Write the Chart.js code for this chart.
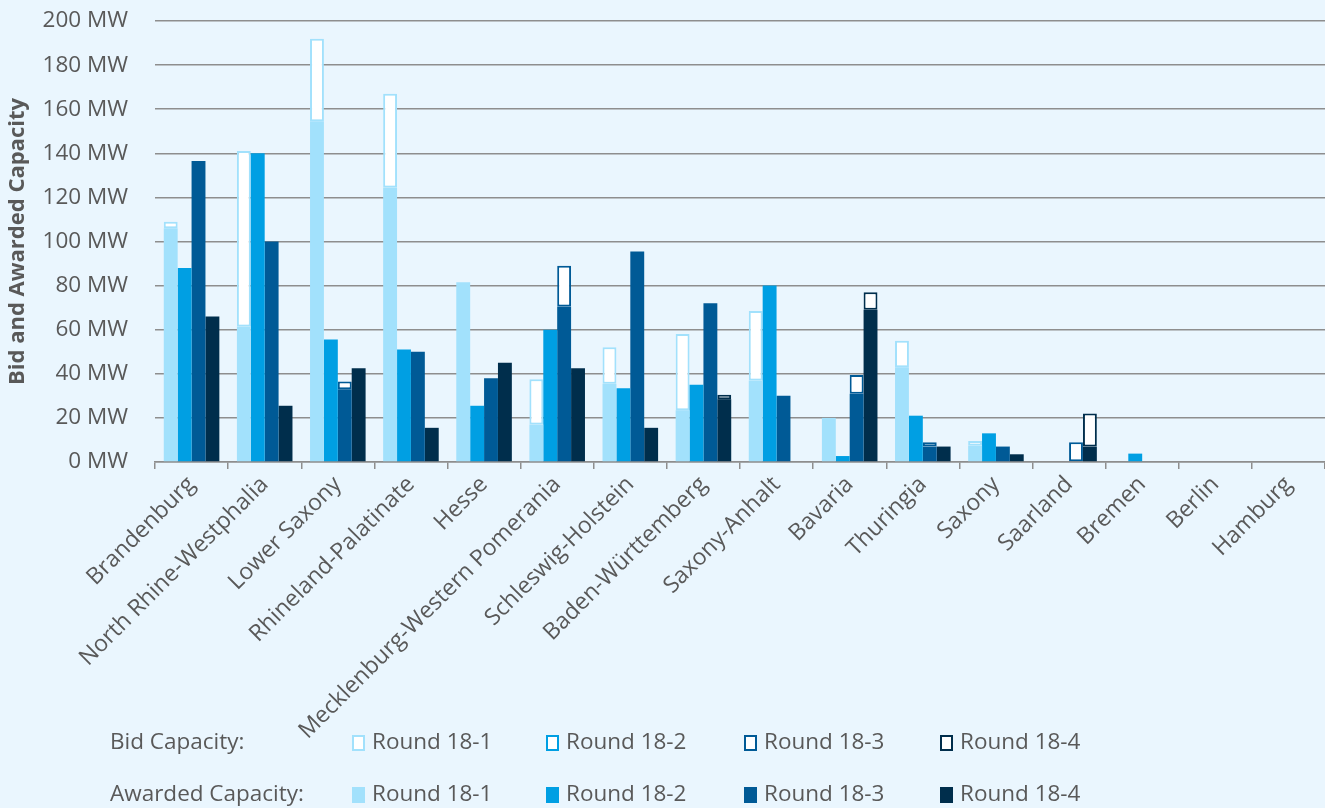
<!DOCTYPE html>
<html>
<head>
<meta charset="utf-8">
<script src="https://cdn.jsdelivr.net/npm/chart.js@4"></script>
<style>
    html, body { margin: 0; padding: 0; background: #EAF6FE; }
    #wrap { width: 1325px; height: 808px; position: relative; }
</style>
</head>
<body>
<div id="wrap"><canvas id="chart" width="1325" height="808"></canvas></div>
<script>
// ---------- Data ----------
const states = [
    "Brandenburg", "North Rhine-Westphalia", "Lower Saxony", "Rhineland-Palatinate",
    "Hesse", "Mecklenburg-Western Pomerania", "Schleswig-Holstein", "Baden-Württemberg",
    "Saxony-Anhalt", "Bavaria", "Thuringia", "Saxony", "Saarland", "Bremen", "Berlin", "Hamburg"
];
const roundNames = ["Round 18-1", "Round 18-2", "Round 18-3", "Round 18-4"];

const bid1     = [109, 141, 192, 167, 81.5, 37.5, 52, 58, 68.5, 20, 55, 9.5, 0, 0, 0, 0];
const awarded1 = [106, 61.5, 154.5, 124.5, 81.5, 17, 35.5, 23.5, 37, 20, 43, 7.5, 0, 0, 0, 0];
const bid2     = [88, 140, 55.5, 51, 25.5, 60, 33.5, 35, 80, 2.7, 21, 13, 0, 3.8, 0, 0];
const awarded2 = [88, 140, 55.5, 51, 25.5, 60, 33.5, 35, 80, 2.7, 21, 13, 0, 3.8, 0, 0];
const bid3     = [136.5, 100, 36.5, 50, 38, 89, 95.5, 72, 30, 39.5, 9, 7, 9, 0, 0, 0];
const awarded3 = [136.5, 100, 33, 50, 38, 70.5, 95.5, 72, 30, 31, 7, 7, 0, 0, 0, 0];
const bid4     = [66, 25.5, 42.5, 15.5, 45, 42.5, 15.5, 30.5, 0, 77, 7, 3.5, 22, 0, 0, 0];
const awarded4 = [66, 25.5, 42.5, 15.5, 45, 42.5, 15.5, 28.5, 0, 69, 7, 3.5, 7, 0, 0, 0];

const yTicks = [0, 20, 40, 60, 80, 100, 120, 140, 160, 180, 200];

const colors  = ["#A2E1FC", "#009FE3", "#005A96", "#002E4C"];
const textCol = "#595959";
const gridCol = "#8E8E8E";
const font    = "Open Sans";

const bids    = [bid1, bid2, bid3, bid4];
const awards  = [awarded1, awarded2, awarded3, awarded4];

// ---------- Datasets: awarded part + unawarded rest of the bid, stacked per round ----------
const datasets = [];
awards.forEach((a, i) => {
    datasets.push({
        label: "Awarded " + roundNames[i],
        data: a.map(v => v || null),
        backgroundColor: colors[i],
        borderWidth: 0,
        stack: "r" + i
    });
});
bids.forEach((b, i) => {
    datasets.push({
        label: "Bid " + roundNames[i],
        data: b.map((v, k) => (v - awards[i][k] > 0 ? v - awards[i][k] : null)),
        backgroundColor: "#FFFFFF",
        borderColor: colors[i],
        borderWidth: 2,
        borderSkipped: false,
        stack: "r" + i
    });
});

// ---------- Legend with row captions ----------
const rowLegend = {
    id: "rowLegend",
    afterDraw(chart) {
        const ctx = chart.ctx;
        const cols = [352, 546, 744, 940];
        const rows = [
            { caption: "Bid Capacity:", y: 743, filled: false },
            { caption: "Awarded Capacity:", y: 795, filled: true }
        ];
        ctx.save();
        ctx.font = `22.5px "${font}"`;
        ctx.textBaseline = "middle";
        rows.forEach(r => {
            ctx.fillStyle = textCol;
            ctx.fillText(r.caption, 110, r.y);
            cols.forEach((x, i) => {
                if (r.filled) {
                    ctx.fillStyle = colors[i];
                    ctx.fillRect(x, r.y - 8, 13, 16);
                } else {
                    ctx.fillStyle = "#FFFFFF";
                    ctx.fillRect(x, r.y - 8, 13, 16);
                    ctx.strokeStyle = colors[i];
                    ctx.lineWidth = 2;
                    ctx.strokeRect(x + 1, r.y - 7, 11, 14);
                }
                ctx.fillStyle = textCol;
                ctx.fillText(roundNames[i], x + 20, r.y);
            });
        });
        ctx.restore();
    }
};

// ---------- Chart ----------
new Chart(document.getElementById("chart"), {
    type: "bar",
    data: { labels: states, datasets: datasets },
    options: {
        responsive: false,
        animation: false,
        layout: { padding: { top: 21, right: 0, left: 0, bottom: 0 } },
        categoryPercentage: 0.76,
        barPercentage: 1.0,
        plugins: { legend: { display: false }, tooltip: { enabled: false } },
        scales: {
            x: {
                stacked: true,
                grid: { offset: true, drawOnChartArea: false, color: gridCol, lineWidth: 1.5, tickLength: 7 },
                border: { display: true, color: gridCol, width: 1.5 },
                ticks: {
                    autoSkip: false, maxRotation: 45, minRotation: 45,
                    color: textCol, font: { family: font, size: 23 }, padding: 2
                },
                afterFit: scale => {
                    scale.height = 808 - 462;
                    scale.paddingTop = 0;
                    scale.paddingBottom = 0;
                    scale.paddingRight = 0;
                }
            },
            y: {
                stacked: true,
                min: 0, max: 200,
                afterBuildTicks: scale => { scale.ticks = yTicks.map(v => ({ value: v })); },
                grid: { color: gridCol, lineWidth: 1.5, drawTicks: false },
                border: { display: false },
                ticks: {
                    color: textCol, padding: 27,
                    font: { family: font, size: 22.5 },
                    callback: v => v + " MW"
                },
                title: {
                    display: true, text: "Bid and Awarded Capacity", color: textCol,
                    font: { family: font, size: 22, weight: "bold" }, padding: { top: 5, bottom: 0 }
                },
                afterFit: scale => {
                    scale.width = 155;
                    scale.paddingTop = 0;
                    scale.paddingBottom = 0;
                }
            }
        }
    },
    plugins: [rowLegend]
});
</script>
</body>
</html>
